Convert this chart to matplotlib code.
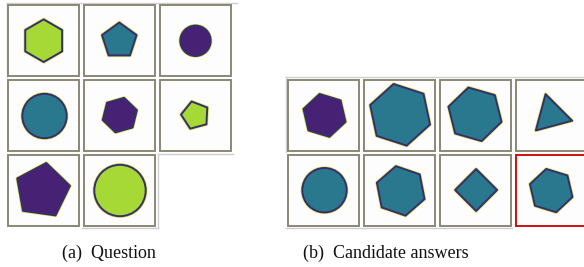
"""
Raven-style puzzle figure: 3x3 question grid (last cell empty) and
2x4 candidate answers, the chosen answer boxed in red.
"""

import numpy as np
import matplotlib
matplotlib.use("Agg")
import matplotlib.pyplot as plt
from matplotlib.patches import Rectangle, Circle, Polygon

W, H = 584, 267

LIME = "#a6d936"
TEAL = "#2a788e"
PURPLE = "#472173"
EDGE = "#352f6c"
HALO = "#dfe35a"
BOX = "#8a8776"

# shape per panel: sides (0 = circle), colour, radius, rotation (deg), dx, dy
q_sides = [6, 5, 0, 0, 6, 5, 5, 0]
q_colors = [LIME, TEAL, PURPLE, TEAL, PURPLE, LIME, PURPLE, LIME]
q_radius = [21.3, 18.2, 15.2, 22.2, 17.8, 14.3, 28.0, 25.7]
q_rot = [90, 90, 0, 0, 76, 105, 82, 0]
q_dx = [0.2, -0.2, 0.0, 1.0, 0.3, -0.2, -1.1, 0.5]
q_dy = [0.2, 0.2, 0.3, 0.5, -0.4, -0.2, 0.2, 0.0]

c_sides = [6, 6, 6, 3, 0, 6, 4, 6]
c_colors = [PURPLE, TEAL, TEAL, TEAL, TEAL, TEAL, TEAL, TEAL]
c_radius = [22.0, 31.5, 27.6, 21.7, 22.2, 25.2, 21.0, 22.2]
c_rot = [103, 102, 104, 105, 0, 101, 90, 103]
c_dx = [1.0, 0.6, -0.5, -0.3, 1.0, 1.2, 0.6, -0.3]
c_dy = [-0.1, -0.7, -1.2, -0.4, -0.3, 0.4, -0.5, 0.1]
answer = 7

captions = ["(a)  Question", "(b)  Candidate answers"]

SIZE = 71
PITCH_X, PITCH_Y = 76, 75


def draw_shape(ax, cx, cy, n, color, r, rot):
    for ec, lw, z in [(HALO, 2.4, 2), (EDGE, 1.4, 3)]:
        if n == 0:
            p = Circle((cx, cy), r, facecolor=color, edgecolor=ec, lw=lw, zorder=z)
        else:
            a = np.radians(rot + 360.0 / n * np.arange(n))
            pts = np.column_stack([cx + r * np.cos(a), cy - r * np.sin(a)])
            p = Polygon(pts, closed=True, facecolor=color, edgecolor=ec,
                        lw=lw, joinstyle="round", zorder=z)
        ax.add_patch(p)


def draw_grid(ax, x0, y0, ncol, sides, colors, radius, rot, dx, dy, red=None):
    for i in range(len(sides)):
        r_, c_ = divmod(i, ncol)
        bx, by = x0 + c_ * PITCH_X, y0 + r_ * PITCH_Y
        ax.add_patch(Rectangle((bx, by), SIZE, SIZE, facecolor="#fdfdfd",
                               edgecolor="#cc1111" if i == red else BOX,
                               lw=1.4, zorder=1))
        draw_shape(ax, bx + SIZE / 2 + dx[i], by + SIZE / 2 + dy[i],
                   sides[i], colors[i], radius[i], rot[i])


fig = plt.figure(figsize=(W / 100, H / 100), dpi=100)
ax = fig.add_axes([0, 0, 1, 1])
ax.set_xlim(0, W)
ax.set_ylim(H, 0)
ax.axis("off")

# faint table rules behind the panels
light = dict(color="#cfcfcf", lw=1.0, zorder=0.5)
ax.plot([6.5, 237], [3, 3], **light)
ax.plot([6.5, 6.5], [3, 77], **light)
ax.plot([158, 233], [153.5, 153.5], **light)
ax.plot([158, 158], [153.5, 228], **light)
ax.plot([82, 158], [228, 228], **light)
ax.plot([286, 584], [77, 77], **light)
ax.plot([286, 286], [77, 152], **light)
ax.plot([286, 512], [228, 228], **light)

draw_grid(ax, 8, 5, 3, q_sides, q_colors, q_radius, q_rot, q_dx, q_dy)
draw_grid(ax, 288, 80, 4, c_sides, c_colors, c_radius, c_rot, c_dx, c_dy, red=answer)

for x, txt in zip([109, 386], captions):
    ax.text(x, 253, txt, ha="center", va="center", fontsize=13,
            family="Liberation Serif", color="#111111")

fig.savefig("out.png", dpi=100)
